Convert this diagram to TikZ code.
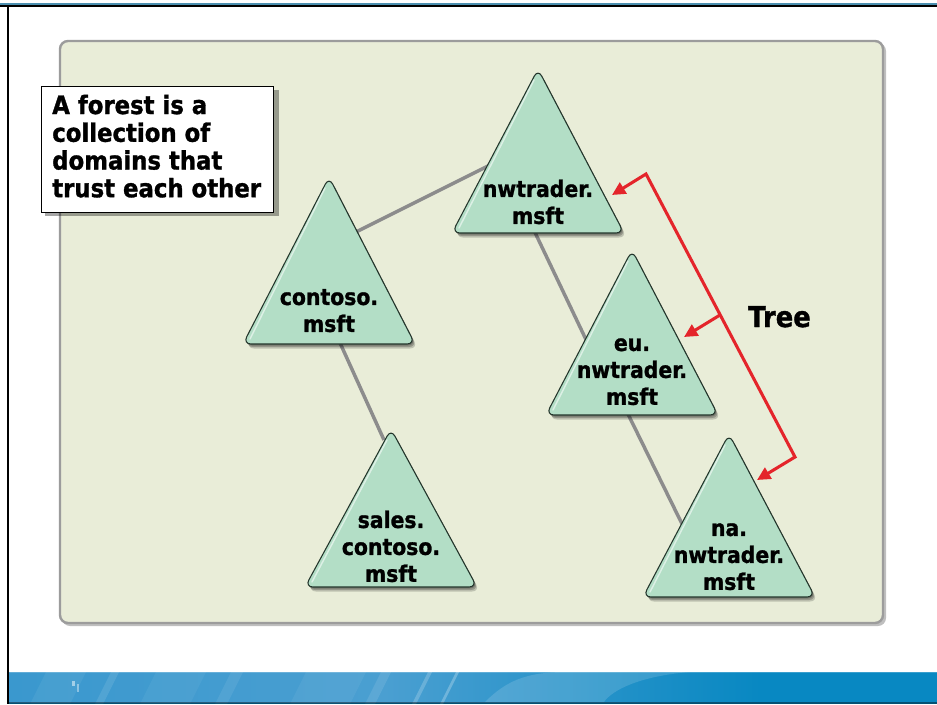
\documentclass[tikz,border=0pt]{standalone}
\usepackage{fontspec}
\setmainfont{DejaVu Sans}[FakeStretch=0.9, BoldFeatures={FakeBold=1.2}]
\usetikzlibrary{arrows.meta}

\definecolor{panelfill}{HTML}{E9EDD8}
\definecolor{panelline}{HTML}{9C9C9C}
\definecolor{trifill}{HTML}{B3DEC6}
\definecolor{triline}{HTML}{24362C}
\definecolor{linkgray}{HTML}{8C8C8C}
\definecolor{treered}{HTML}{E4252B}
\definecolor{bandblue}{HTML}{0888C2}
\definecolor{bandlight}{HTML}{4A9FD1}
\definecolor{bandmid}{HTML}{3A98CE}
\definecolor{topblue}{HTML}{4B8FB0}

% first-line strut so every label block starts at the same height
\newcommand\firststrut{\rule{0pt}{0.78em}}

% rounded domain triangle: apex x, apex y, base y
\newcommand\domtri[3]{%
  \foreach \dx/\dy/\op in {1/1.5/0.22, 2/3/0.22, 3/4.5/0.18}{
    \fill[black, opacity=\op, rounded corners=6pt]
      (#1+\dx,#2-3+\dy) -- (#1+86+\dx,#3+\dy) -- (#1-86+\dx,#3+\dy) -- cycle;
  }
  \filldraw[fill=trifill, draw=triline, line width=0.8pt, rounded corners=6pt]
    (#1,#2-3) -- (#1+86,#3) -- (#1-86,#3) -- cycle;
  \draw[white, opacity=0.55, line width=1.1pt, line cap=round]
    (#1-79,#3-5) -- (#1-4,#2+8);
}

\tikzset{
  domtext/.style={anchor=north, inner sep=0pt, align=center,
    font=\bfseries\fontsize{17pt}{20.2pt}\selectfont},
  notetext/.style={anchor=north west, inner sep=0pt, align=left,
    font=\bfseries\fontsize{19pt}{20.8pt}\selectfont},
  link/.style={draw=linkgray, line width=2.6pt},
  trust/.style={draw=treered, line width=2.3pt,
    arrows={-Triangle[length=10pt, width=9.5pt]}},
}

\begin{document}
\begin{tikzpicture}[x=0.75pt, y=-0.75pt]
\useasboundingbox (0,0) rectangle (937,704);
\fill[white] (0,0) rectangle (937,704);

% slide frame
\fill[topblue] (0,3) rectangle (937,4.5);
\fill[black] (0,4.5) rectangle (937,7.3);
\fill[black] (7,4.5) rectangle (9.3,704);

% bottom band
\fill[bandblue] (9.3,672) rectangle (937,704);
\shade[left color=bandmid, right color=bandblue, middle color=bandlight]
  (9.3,672) rectangle (760,702);
\foreach \sx/\sw/\op in {30/40/0.06, 95/8/0.1, 140/50/0.05, 215/12/0.08,
                         290/60/0.06, 365/10/0.1, 412/4/0.2, 440/3/0.25}{
  \fill[white, opacity=\op] (\sx,704) -- (\sx+16,672) -- (\sx+16+\sw,672) -- (\sx+\sw,704) -- cycle;
}
\fill[white, opacity=0.14] (485,702) .. controls (505,682) and (525,672) .. (565,672)
  -- (690,672) .. controls (640,676) and (612,690) .. (604,702) -- cycle;
\fill[white, opacity=0.5] (72,681) rectangle (75,686);
\fill[white, opacity=0.4] (77,684) rectangle (79,692);
\fill[white, opacity=0.2] (9.3,672) rectangle (937,673);
\fill[black, opacity=0.4] (9.3,702) rectangle (937,704);

% panel
\fill[black, opacity=0.25, rounded corners=6pt] (62,43) rectangle (886,626);
\filldraw[fill=panelfill, draw=panelline, line width=1.8pt, rounded corners=6pt]
  (60,41) rectangle (883,623);

% ends of the domain links
\coordinate (ct-ne) at (350,235);
\coordinate (nw-sw) at (490,165);
\coordinate (nw-s)  at (530,222);
\coordinate (eu-nw) at (590,348);
\coordinate (ct-s)  at (336,334);
\coordinate (sa-n)  at (384,440);
\coordinate (eu-s)  at (626,410);
\coordinate (na-nw) at (685,530);

\draw[link] (ct-ne) -- (nw-sw);
\draw[link] (nw-s) -- (eu-nw);
\draw[link] (ct-s) -- (sa-n);
\draw[link] (eu-s) -- (na-nw);

% domains
\domtri{538}{72}{233}
\domtri{329}{180}{344}
\domtri{391}{432}{587}
\domtri{632}{253}{415}
\domtri{729}{437}{597}

\node[domtext] (nw) at (538,179) {\firststrut nwtrader.\\msft};
\node[domtext] (contoso) at (329,287) {\firststrut contoso.\\msft};
\node[domtext] (sales) at (391,510) {\firststrut sales.\\contoso.\\msft};
\node[domtext] (eu) at (632,333) {\firststrut eu.\\nwtrader.\\msft};
\node[domtext] (na) at (729,518) {\firststrut na.\\nwtrader.\\msft};

% tree bracket
\coordinate (tr-top) at (646,174);
\coordinate (tr-mid) at (720,315);
\coordinate (tr-bot) at (795,457);
\coordinate (nw-e) at (612,195);
\coordinate (eu-e) at (684,337);
\coordinate (na-e) at (757,480);

\draw[trust, arrows={Triangle[length=10pt, width=9.5pt]-Triangle[length=10pt, width=9.5pt]}, line join=miter]
  (nw-e) -- (tr-top) -- (tr-bot) -- (na-e);
\draw[trust] (tr-mid) -- (eu-e);

\node[anchor=base west, inner sep=0pt, font=\bfseries\fontsize{21.5pt}{24pt}\selectfont]
  (tree) at (748,327) {Tree};

% note
\fill[black, opacity=0.35] (45,90) rectangle (279,216);
\node[draw=black, fill=white, line width=1pt, anchor=north west, inner sep=0pt,
  minimum width=174pt, minimum height=94.5pt] (notebox) at (41,86) {};
\node[notetext] (note) at (52,94)
  {\firststrut A forest is a\\collection of\\domains that\\trust each other};
\end{tikzpicture}
\end{document}
